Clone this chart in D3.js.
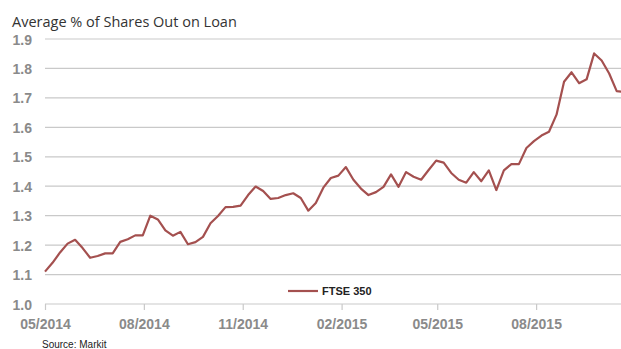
<!DOCTYPE html>
<html>
<head>
<meta charset="utf-8">
<script src="https://cdn.jsdelivr.net/npm/d3@7"></script>
<style>
  body { margin: 0; background: #fff; }
  svg { display: block; }
  .grid line { stroke: #c9c9c9; stroke-width: 1.2; }
  .axis text { fill: #8a8a8a; font-family: "Liberation Sans", Arial, sans-serif; font-size: 14px; font-weight: bold; }
</style>
</head>
<body>
<svg width="621" height="349"></svg>
<script>
var dates = [
  "2014-05-01","2014-05-08","2014-05-15","2014-05-22","2014-05-29",
  "2014-06-05","2014-06-12","2014-06-19","2014-06-26",
  "2014-07-03","2014-07-10","2014-07-17","2014-07-24","2014-07-31",
  "2014-08-07","2014-08-14","2014-08-21","2014-08-28",
  "2014-09-04","2014-09-11","2014-09-18","2014-09-25",
  "2014-10-02","2014-10-09","2014-10-16","2014-10-23","2014-10-30",
  "2014-11-06","2014-11-13","2014-11-20","2014-11-27",
  "2014-12-04","2014-12-11","2014-12-18","2014-12-25",
  "2015-01-01","2015-01-08","2015-01-15","2015-01-22","2015-01-29",
  "2015-02-05","2015-02-12","2015-02-19","2015-02-26",
  "2015-03-05","2015-03-12","2015-03-19","2015-03-26",
  "2015-04-02","2015-04-09","2015-04-16","2015-04-23","2015-04-30",
  "2015-05-07","2015-05-14","2015-05-21","2015-05-28",
  "2015-06-04","2015-06-11","2015-06-18","2015-06-25",
  "2015-07-02","2015-07-09","2015-07-16","2015-07-23","2015-07-30",
  "2015-08-06","2015-08-13","2015-08-20","2015-08-27",
  "2015-09-03","2015-09-10","2015-09-17","2015-09-24",
  "2015-10-01","2015-10-08","2015-10-15","2015-10-22"
];

var ftse350 = [
  1.11, 1.14, 1.175, 1.205, 1.218,
  1.19, 1.157, 1.163, 1.172,
  1.172, 1.211, 1.22, 1.233, 1.233,
  1.30, 1.287, 1.25, 1.232,
  1.245, 1.203, 1.21, 1.228,
  1.274, 1.299, 1.329, 1.33, 1.334,
  1.37, 1.399, 1.384, 1.357,
  1.36, 1.37, 1.376, 1.36, 1.317,
  1.343, 1.395, 1.428, 1.436, 1.465,
  1.422, 1.392, 1.37, 1.38,
  1.398, 1.44, 1.398, 1.448,
  1.432, 1.422, 1.455, 1.487, 1.48,
  1.445, 1.422, 1.412, 1.448,
  1.417, 1.454, 1.387, 1.454, 1.475,
  1.475, 1.53, 1.553, 1.572, 1.585,
  1.643, 1.755, 1.787, 1.75,
  1.763, 1.851, 1.827, 1.783,
  1.723, 1.72
];

var yTicks = [1.0, 1.1, 1.2, 1.3, 1.4, 1.5, 1.6, 1.7, 1.8, 1.9];
var xTicks = ["2014-05-01", "2014-08-01", "2014-11-01", "2015-02-01", "2015-05-01", "2015-08-01"];

var parse = d3.timeParse("%Y-%m-%d");
var data = dates.map(function(d, i) { return {date: parse(d), value: ftse350[i]}; });

var svg = d3.select("svg");
var margin = {top: 39, right: 0, bottom: 45, left: 45};
var width = +svg.attr("width") - margin.left - margin.right;
var height = +svg.attr("height") - margin.top - margin.bottom;

var x = d3.scaleTime()
  .domain([parse("2014-05-01"), parse("2015-10-19")])
  .range([0, width]);
var y = d3.scaleLinear().domain([1.0, 1.9]).range([height, 0]);

svg.append("defs").append("clipPath").attr("id", "clip")
  .append("rect").attr("x", -2).attr("y", -5).attr("width", width + 2).attr("height", height + 10);

var g = svg.append("g")
  .attr("transform", "translate(" + margin.left + "," + margin.top + ")");

// horizontal gridlines
g.append("g")
  .attr("class", "grid")
  .selectAll("line")
  .data(yTicks)
  .enter().append("line")
    .attr("x1", 0)
    .attr("x2", width)
    .attr("y1", function(d) { return y(d); })
    .attr("y2", function(d) { return y(d); });

// y labels
var yAxis = g.append("g")
  .attr("class", "axis")
  .call(d3.axisLeft(y).tickValues(yTicks).tickSize(0).tickPadding(13).tickFormat(d3.format(".1f")));
yAxis.select(".domain").remove();
yAxis.selectAll("text").attr("dy", "0.36em");

// x axis
var xAxis = g.append("g")
  .attr("class", "axis")
  .attr("transform", "translate(0," + height + ")")
  .call(d3.axisBottom(x).tickValues(xTicks.map(parse)).tickSize(6).tickPadding(9).tickFormat(d3.timeFormat("%m/%Y")));
xAxis.select(".domain").remove();
xAxis.selectAll("line").attr("stroke", "#c9c9c9").attr("stroke-width", 1.2);

// series line
var line = d3.line()
  .x(function(d) { return x(d.date); })
  .y(function(d) { return y(d.value); });

g.append("path")
  .datum(data)
  .attr("clip-path", "url(#clip)")
  .attr("fill", "none")
  .attr("stroke", "#a4504f")
  .attr("stroke-width", 2.2)
  .attr("stroke-linejoin", "round")
  .attr("d", line);

// legend
var legend = svg.append("g").attr("transform", "translate(288,291)");
legend.append("line")
  .attr("x1", 0).attr("x2", 30)
  .attr("stroke", "#a4504f").attr("stroke-width", 2.2);
legend.append("text")
  .attr("x", 34).attr("dy", "0.35em")
  .attr("font-family", "Liberation Sans, Arial, sans-serif")
  .attr("font-size", 11).attr("font-weight", "bold")
  .attr("fill", "#222")
  .text("FTSE 350");

// title
svg.append("text")
  .attr("x", 12).attr("y", 27)
  .attr("font-family", "Open Sans, sans-serif")
  .attr("font-size", 14.5)
  .attr("fill", "#333")
  .text("Average % of Shares Out on Loan");

// source
svg.append("text")
  .attr("x", 42).attr("y", 348)
  .attr("font-family", "Liberation Sans, Arial, sans-serif")
  .attr("font-size", 10)
  .attr("fill", "#222")
  .text("Source: Markit");
</script>
</body>
</html>
